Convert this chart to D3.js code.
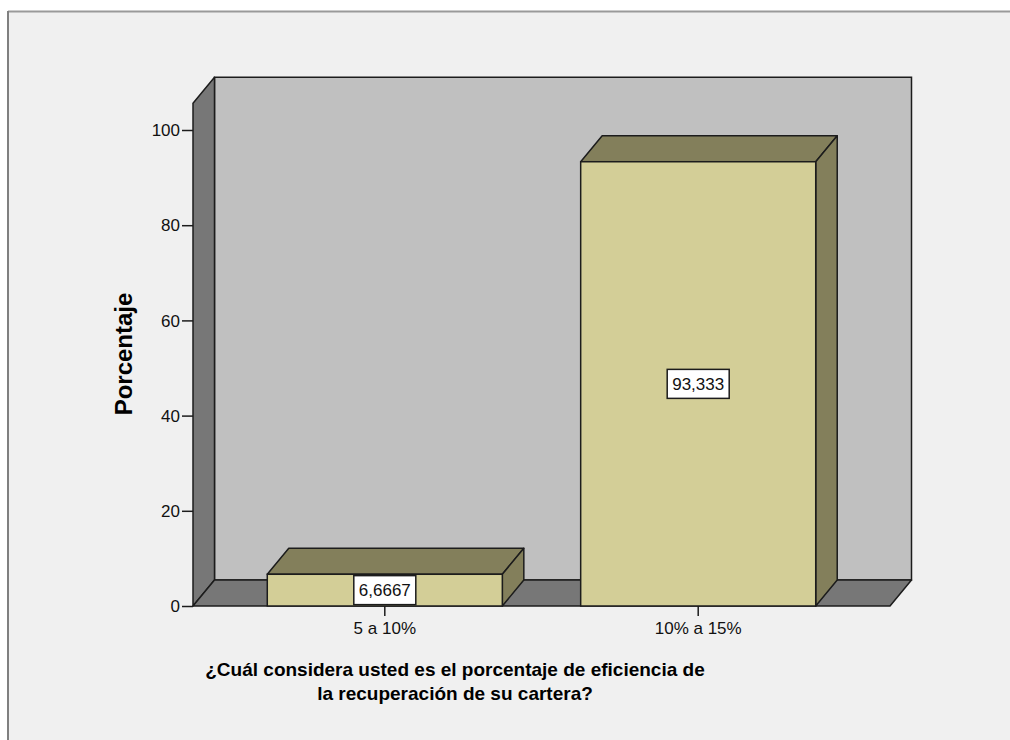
<!DOCTYPE html>
<html>
<head>
<meta charset="utf-8">
<script src="https://cdn.jsdelivr.net/npm/d3@7"></script>
<style>
  html, body { margin: 0; padding: 0; background: #fff; overflow: hidden; }
  svg { display: block; font-family: "Liberation Sans", Arial, sans-serif; }
</style>
</head>
<body>
<div id="chart"></div>
<script>
// 3D bar chart - SPSS style percentage chart
const categories = ["5 a 10%", "10% a 15%"];
const percentages = [6.6667, 93.333];
const valueLabels = ["6,6667", "93,333"];
const yTicks = [0, 20, 40, 60, 80, 100];
const yTitle = "Porcentaje";
const xTitleLines = ["¿Cuál considera usted es el porcentaje de eficiencia de", "la recuperación de su cartera?"];

const width = 1010, height = 740;
const depth = { dx: 21.5, dy: -26 };   // 3D offset
const wallMax = 105.6;                // how high the walls go

const svg = d3.select("#chart").append("svg")
  .attr("width", width)
  .attr("height", height);

// frame (open on the right and bottom, cut by the window)
svg.append("rect")
  .attr("x", 8).attr("y", 11)
  .attr("width", width - 8).attr("height", height - 11)
  .attr("fill", "#f0f0f0");
svg.append("line")
  .attr("x1", 8).attr("x2", width).attr("y1", 11.5).attr("y2", 11.5)
  .attr("stroke", "#9a9a9a").attr("stroke-width", 2);
svg.append("line")
  .attr("x1", 8).attr("x2", 8).attr("y1", 11).attr("y2", height)
  .attr("stroke", "#808080").attr("stroke-width", 2);

// scales
const y = d3.scaleLinear().domain([0, 100]).range([606, 130]);
const x = d3.scaleBand().domain(categories)
  .range([193, 890])
  .paddingInner(0.25)
  .paddingOuter(0.237);

const x0 = x.range()[0], x1 = x.range()[1];
const yb = y(0), yt = y(wallMax);
const line = d3.line();
const stroke = "#1c1c1c";

// back wall
svg.append("path")
  .attr("d", line([[x0 + depth.dx, yb + depth.dy], [x0 + depth.dx, yt + depth.dy],
                   [x1 + depth.dx, yt + depth.dy], [x1 + depth.dx, yb + depth.dy]]) + "Z")
  .attr("fill", "#c0c0c0").attr("stroke", stroke).attr("stroke-width", 1.5);

// left wall
svg.append("path")
  .attr("d", line([[x0, yb], [x0, yt], [x0 + depth.dx, yt + depth.dy], [x0 + depth.dx, yb + depth.dy]]) + "Z")
  .attr("fill", "#777777").attr("stroke", stroke).attr("stroke-width", 1.5)
  .attr("stroke-linejoin", "round");

// floor
svg.append("path")
  .attr("d", line([[x0, yb], [x0 + depth.dx, yb + depth.dy], [x1 + depth.dx, yb + depth.dy], [x1, yb]]) + "Z")
  .attr("fill", "#777777").attr("stroke", stroke).attr("stroke-width", 1.5)
  .attr("stroke-linejoin", "round");

// y axis ticks
const yAxis = svg.append("g")
  .attr("transform", `translate(${x0},0)`)
  .call(d3.axisLeft(y).tickValues(yTicks).tickSize(11).tickPadding(2).tickFormat(d3.format("d")));
yAxis.select(".domain").remove();
yAxis.selectAll("line").attr("stroke", stroke).attr("stroke-width", 1.5);
yAxis.selectAll("text")
  .attr("dy", "0.33em")
  .style("font-size", "17px")
  .style("font-family", "'Liberation Sans', Arial, sans-serif")
  .attr("fill", "#111");

// bars
const bars = svg.append("g").selectAll("g")
  .data(categories.map((c, i) => ({ cat: c, val: percentages[i], label: valueLabels[i] })))
  .join("g");

bars.append("path") // top face
  .attr("d", d => {
    const l = x(d.cat), r = l + x.bandwidth(), t = y(d.val);
    return line([[l, t], [l + depth.dx, t + depth.dy], [r + depth.dx, t + depth.dy], [r, t]]) + "Z";
  })
  .attr("fill", "#837f5b").attr("stroke", stroke).attr("stroke-width", 1.5).attr("stroke-linejoin", "round");

bars.append("path") // side face
  .attr("d", d => {
    const r = x(d.cat) + x.bandwidth(), t = y(d.val);
    return line([[r, t], [r + depth.dx, t + depth.dy], [r + depth.dx, yb + depth.dy], [r, yb]]) + "Z";
  })
  .attr("fill", "#837f5b").attr("stroke", stroke).attr("stroke-width", 1.5).attr("stroke-linejoin", "round");

bars.append("rect") // front face
  .attr("x", d => x(d.cat))
  .attr("y", d => y(d.val))
  .attr("width", x.bandwidth())
  .attr("height", d => yb - y(d.val))
  .attr("fill", "#d3ce97").attr("stroke", stroke).attr("stroke-width", 1.5);

// value labels in white boxes
bars.each(function (d) {
  const g = d3.select(this);
  const cx = x(d.cat) + x.bandwidth() / 2;
  const cy = (y(d.val) + yb) / 2;
  const boxW = 62, boxH = 29;
  g.append("rect")
    .attr("x", cx - boxW / 2).attr("y", cy - boxH / 2)
    .attr("width", boxW).attr("height", boxH)
    .attr("fill", "#fff").attr("stroke", stroke).attr("stroke-width", 1.5);
  g.append("text")
    .attr("x", cx).attr("y", cy)
    .attr("dy", "0.36em")
    .attr("text-anchor", "middle")
    .style("font-size", "17px")
    .attr("fill", "#111")
    .text(d.label);
});

// x axis ticks and labels
const xAxis = svg.append("g")
  .attr("transform", `translate(0,${yb})`)
  .call(d3.axisBottom(x).tickSize(10).tickPadding(6));
xAxis.select(".domain").remove();
xAxis.selectAll("line").attr("stroke", stroke).attr("stroke-width", 1.5);
xAxis.selectAll("text")
  .style("font-size", "17px")
  .style("font-family", "'Liberation Sans', Arial, sans-serif")
  .attr("fill", "#111");

// axis titles
svg.append("text")
  .attr("transform", "translate(132,354) rotate(-90)")
  .attr("text-anchor", "middle")
  .style("font-size", "24px")
  .style("font-weight", "bold")
  .attr("fill", "#000")
  .text(yTitle);

svg.append("g").selectAll("text")
  .data(xTitleLines)
  .join("text")
  .attr("x", 455)
  .attr("y", (d, i) => 676 + i * 24)
  .attr("text-anchor", "middle")
  .style("font-size", "19px")
  .style("font-weight", "bold")
  .attr("fill", "#000")
  .text(d => d);
</script>
</body>
</html>
